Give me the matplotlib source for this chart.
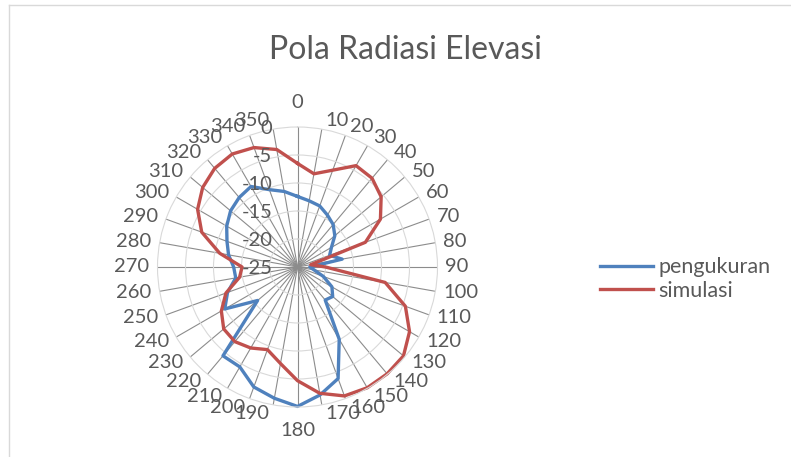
import matplotlib
matplotlib.use('Agg')
import matplotlib.pyplot as plt
import numpy as np
from matplotlib.lines import Line2D

# --- Data ---
categories = list(range(0, 360, 10))
pengukuran = [-12.4, -13.0, -13.4, -14.3, -15.1, -16.3, -18.0, -18.9, -16.9,
              -22.8, -22.0, -20.1, -17.9, -16.8, -17.3, -10.1, -3.8, -1.8,
              -0.1, -1.2, -2.2, -4.4, -4.3, -15.7, -10.0, -11.7, -13.8,
              -13.6, -12.5, -11.6, -10.4, -9.4, -8.8, -8.4, -10.3, -11.3]
simulasi = [-6.5, -8.1, -6.6, -4.1, -4.3, -5.5, -7.9, -12.1, -22.6,
            -20.0, -9.1, -4.5, -1.9, -0.3, -0.1, -0.1, -0.5, -2.1,
            -4.7, -7.5, -9.3, -8.3, -7.6, -7.8, -9.3, -11.4, -14.5,
            -15.1, -10.9, -6.8, -4.4, -2.9, -2.0, -1.7, -2.3, -3.7]
value_ticks = [-25, -20, -15, -10, -5, 0]
title = 'Pola Radiasi Elevasi'
series_names = ['pengukuran', 'simulasi']

# --- Style ---
W, H, DPI = 791, 457, 100
TEXT = '#595959'
BLUE = '#4F81BD'
RED = '#C0504D'
LABEL_FS = 14.5
plt.rcParams['font.family'] = ['Lato', 'DejaVu Sans']

fig = plt.figure(figsize=(W / DPI, H / DPI), dpi=DPI)

# plot area: centre (297.5, 267) px, radius 140 px
cx, cy, R = 297.5, 267, 140
ax = fig.add_axes([(cx - R) / W, (H - cy - R) / H, 2 * R / W, 2 * R / H],
                  projection='polar')
ax.set_theta_zero_location('N')
ax.set_theta_direction(-1)
ax.set_rlim(value_ticks[0], value_ticks[-1])

theta = np.deg2rad(categories)
ax.set_xticks(theta)
ax.set_xticklabels([])
ax.set_yticks(value_ticks[1:-1])
ax.set_yticklabels([])
ax.xaxis.grid(True, color='#8c8c8c', lw=0.8)
ax.yaxis.grid(True, color='#d9d9d9', lw=0.8)
ax.spines['polar'].set_color('#d9d9d9')
ax.spines['polar'].set_linewidth(0.8)
ax.tick_params(length=0)

# --- Series ---
for vals, col, name in [(pengukuran, BLUE, series_names[0]),
                        (simulasi, RED, series_names[1])]:
    t = np.append(theta, theta[0])
    r = np.append(vals, vals[0])
    ax.plot(t, r, color=col, lw=2.4, solid_joinstyle='round', label=name,
            clip_on=False)

# --- Category labels (Excel-like placement) ---
pt = 72 / DPI
for ang, th in zip(categories, theta):
    s, c = np.sin(th), np.cos(th)
    if abs(s) < 0.05:
        ha = 'center'
        dx = 0
        dy = 24 * np.sign(c)
    else:
        ha = 'left' if s > 0 else 'right'
        dx = np.sign(s) * (3 + 5 * abs(s))
        dy = 9 * c
    ax.annotate(str(ang), xy=(th, 0), xytext=(dx * pt, dy * pt),
                textcoords='offset points', ha=ha, va='center',
                fontsize=LABEL_FS, color=TEXT, annotation_clip=False)

# --- Value axis labels ---
for v in value_ticks:
    ax.annotate(str(v), xy=(0, v), xytext=(-25 * pt, -2 * pt),
                textcoords='offset points', ha='right', va='center',
                fontsize=LABEL_FS, color=TEXT, annotation_clip=False)

# --- Title ---
fig.text(405 / W, 1 - 50 / H, title, ha='center', va='center',
         fontsize=23, color=TEXT)

# --- Legend ---
leg = fig.legend(loc='center left', bbox_to_anchor=(600 / W, 1 - 279 / H),
                 frameon=False, fontsize=15.5, handlelength=2.45,
                 handletextpad=0.25, labelspacing=0.15, borderpad=0,
                 borderaxespad=0)
for txt in leg.get_texts():
    txt.set_color(TEXT)

# --- Chart border (left and top visible) ---
fig.add_artist(Line2D([8.5 / W, 8.5 / W], [0, 1 - 4.5 / H],
                      transform=fig.transFigure, color='#d9d9d9', lw=1))
fig.add_artist(Line2D([8.5 / W, 1], [1 - 4.5 / H, 1 - 4.5 / H],
                      transform=fig.transFigure, color='#d9d9d9', lw=1))

fig.savefig('out.png', dpi=DPI)
